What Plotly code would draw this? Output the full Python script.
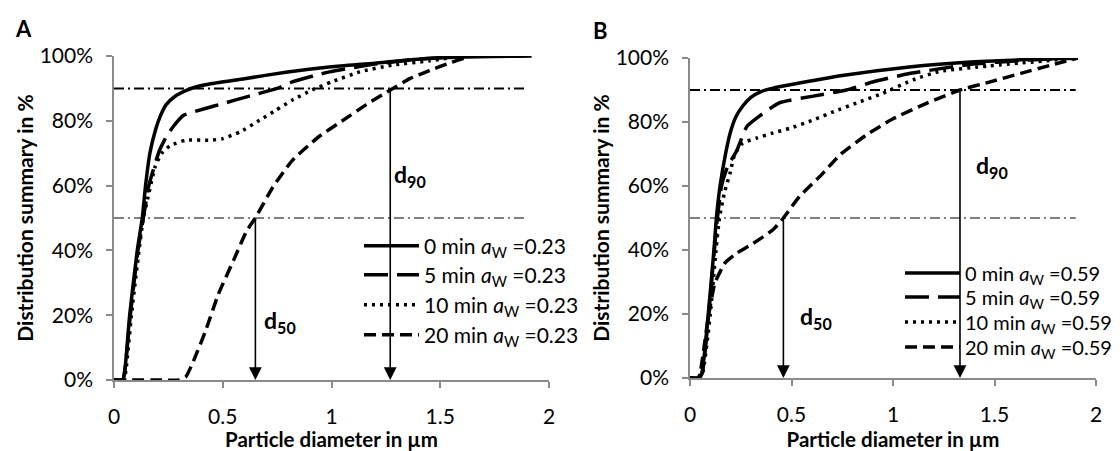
import plotly.graph_objects as go

# ---------------- data ----------------
x_tick_vals = [0, 0.5, 1, 1.5, 2]
y_tick_vals = [0, 0.2, 0.4, 0.6, 0.8, 1.0]
series_names = ["0 min", "5 min", "10 min", "20 min"]
aw_A = "0.23"
aw_B = "0.59"

# Panel A (a_w = 0.23)
xA_0 = [0, 0.04, 0.05, 0.072, 0.107, 0.13, 0.145, 0.165, 0.19, 0.21, 0.24, 0.28, 0.33, 0.38, 0.45, 0.6, 0.79, 1.0, 1.2, 1.35, 1.6, 1.92]
yA_0 = [0, 0, 0.03, 0.2, 0.4, 0.5, 0.6, 0.7, 0.77, 0.81, 0.85, 0.875, 0.893, 0.905, 0.915, 0.93, 0.95, 0.967, 0.978, 0.988, 0.997, 1.0]
xA_5 = [0, 0.04, 0.05, 0.075, 0.11, 0.135, 0.16, 0.19, 0.21, 0.24, 0.27, 0.32, 0.42, 0.5, 0.61, 0.75, 0.82, 0.99, 1.2, 1.4, 1.6]
yA_5 = [0, 0, 0.03, 0.2, 0.4, 0.5, 0.6, 0.67, 0.71, 0.75, 0.78, 0.817, 0.838, 0.853, 0.874, 0.9, 0.92, 0.951, 0.975, 0.99, 1.0]
xA_10 = [0, 0.045, 0.055, 0.08, 0.115, 0.135, 0.155, 0.175, 0.19, 0.22, 0.26, 0.33, 0.44, 0.5, 0.58, 0.67, 0.745, 0.82, 0.91, 1.0, 1.13, 1.28, 1.45, 1.6]
yA_10 = [0, 0, 0.03, 0.2, 0.4, 0.5, 0.56, 0.62, 0.66, 0.7, 0.724, 0.74, 0.74, 0.745, 0.766, 0.802, 0.833, 0.864, 0.895, 0.92, 0.951, 0.972, 0.985, 1.0]
xA_20 = [0, 0.2, 0.3, 0.33, 0.36, 0.42, 0.48, 0.55, 0.61, 0.65, 0.73, 0.82, 0.94, 1.05, 1.16, 1.27, 1.36, 1.45, 1.55, 1.64]
yA_20 = [0, 0, 0, 0.01, 0.05, 0.15, 0.265, 0.37, 0.46, 0.5, 0.595, 0.678, 0.75, 0.80, 0.85, 0.895, 0.93, 0.955, 0.98, 1.0]

# Panel B (a_w = 0.59)
xB_0 = [0, 0.04, 0.058, 0.09, 0.118, 0.13, 0.148, 0.175, 0.2, 0.225, 0.26, 0.3, 0.35, 0.41, 0.5, 0.75, 1.08, 1.4, 1.65, 1.91]
yB_0 = [0, 0, 0.015, 0.2, 0.4, 0.5, 0.6, 0.7, 0.77, 0.815, 0.85, 0.877, 0.895, 0.906, 0.917, 0.945, 0.972, 0.988, 0.995, 1.0]
xB_5 = [0, 0.045, 0.06, 0.092, 0.12, 0.135, 0.155, 0.185, 0.23, 0.28, 0.345, 0.44, 0.6, 0.77, 0.9, 1.07, 1.38, 1.65, 1.91]
yB_5 = [0, 0, 0.015, 0.2, 0.4, 0.5, 0.6, 0.66, 0.71, 0.786, 0.82, 0.86, 0.88, 0.9, 0.925, 0.95, 0.98, 0.993, 1.0]
xB_10 = [0, 0.045, 0.062, 0.1, 0.128, 0.145, 0.17, 0.197, 0.22, 0.26, 0.33, 0.41, 0.49, 0.61, 0.71, 0.82, 0.95, 1.1, 1.23, 1.47, 1.91]
yB_10 = [0, 0, 0.015, 0.2, 0.4, 0.5, 0.58, 0.64, 0.698, 0.734, 0.75, 0.766, 0.78, 0.807, 0.833, 0.859, 0.89, 0.932, 0.958, 0.975, 1.0]
xB_20 = [0, 0.04, 0.05, 0.09, 0.123, 0.173, 0.23, 0.31, 0.41, 0.46, 0.54, 0.64, 0.74, 0.87, 1.0, 1.17, 1.33, 1.47, 1.63, 1.78, 1.91]
yB_20 = [0, 0, 0.015, 0.19, 0.297, 0.36, 0.39, 0.42, 0.464, 0.5, 0.568, 0.63, 0.698, 0.76, 0.81, 0.86, 0.9, 0.924, 0.952, 0.978, 1.0]

# reference levels and characteristic diameters
ref_levels = [0.5, 0.9]
ref_x_end = 1.9
d_A = {"d50": 0.65, "d90": 1.27}
d_B = {"d50": 0.46, "d90": 1.33}

# ---------------- styling / layout helpers ----------------
FONT = "Lato"
dash_styles = ["solid", "24px,9px", "3px,5px", "12px,6px"]
line_width = 3.5

PL, PT, PW, PH = 114, 56, 982, 324          # plot area in px
def px_x(p): return (p - PL) / PW
def px_y(p): return (PT + PH - p) / PH

# legend row centres (px) for each panel, legend left x (px), font size
ITEM_W = 55
legend_rows_A = [246, 275, 305, 335]
legend_rows_B = [273, 297, 322, 347]
legend_left_A = 426 - ITEM_W - 12
legend_left_B = 967 - ITEM_W - 12
legend_font_A = 21
legend_font_B = 20

fig = go.Figure()

panels = [
    ("x", "y", 0, aw_A, [(xA_0, yA_0), (xA_5, yA_5), (xA_10, yA_10), (xA_20, yA_20)], d_A,
     legend_rows_A, legend_left_A, legend_font_A),
    ("x2", "y2", 4, aw_B, [(xB_0, yB_0), (xB_5, yB_5), (xB_10, yB_10), (xB_20, yB_20)], d_B,
     legend_rows_B, legend_left_B, legend_font_B),
]

legend_layouts = {}
for xa, ya, leg_off, aw, series, dvals, rows, left, lfont in panels:
    for lvl in ref_levels:
        fig.add_trace(go.Scatter(
            x=[0, ref_x_end], y=[lvl, lvl], mode="lines", xaxis=xa, yaxis=ya,
            line=dict(color="black", width=2 if lvl == 0.9 else 1, dash="10px,4px,2px,4px"),
            showlegend=False, hoverinfo="skip"))
    for i, (xs, ys) in enumerate(series):
        n = leg_off + i + 1
        leg = "legend" if n == 1 else f"legend{n}"
        fig.add_trace(go.Scatter(
            x=xs, y=ys, mode="lines", xaxis=xa, yaxis=ya,
            name=f"{series_names[i]} <i>a</i><sub>W</sub> ={aw}",
            legend=leg,
            line=dict(color="black", width=line_width, dash=dash_styles[i], shape="spline", smoothing=0.5)))
        legend_layouts[leg] = dict(x=px_x(left), y=px_y(rows[i]), xanchor="left", yanchor="middle",
                                   itemwidth=ITEM_W,
                                   bgcolor="rgba(0,0,0,0)", font=dict(family=FONT, size=lfont, color="black"))
    for key, lvl in (("d50", 0.5), ("d90", 0.9)):
        xv = dvals[key]
        fig.add_annotation(x=xv, y=0, ax=xv, ay=lvl, xref=xa, yref=ya, axref=xa, ayref=ya,
                           showarrow=True, arrowhead=2, arrowsize=1.6, arrowwidth=1.6,
                           arrowcolor="black", text="", standoff=0)

# label texts
label_pos = [
    ("x", "y", d_A["d50"] + 0.03, 0.18, "d<sub>50</sub>"),
    ("x", "y", d_A["d90"] + 0.01, 0.63, "d<sub>90</sub>"),
    ("x2", "y2", d_B["d50"] + 0.07, 0.19, "d<sub>50</sub>"),
    ("x2", "y2", d_B["d90"] + 0.07, 0.66, "d<sub>90</sub>"),
]
for xa, ya, xv, yv, txt in label_pos:
    fig.add_annotation(x=xv, y=yv, xref=xa, yref=ya, text=f"<b>{txt}</b>", showarrow=False,
                       xanchor="left", yanchor="middle", font=dict(family=FONT, size=23, color="black"))

# panel letters
fig.add_annotation(x=px_x(13), y=px_y(28), xref="paper", yref="paper", text="<b>A</b>",
                   showarrow=False, xanchor="left", yanchor="middle", font=dict(family=FONT, size=22, color="black"))
fig.add_annotation(x=px_x(591), y=px_y(30), xref="paper", yref="paper", text="<b>B</b>",
                   showarrow=False, xanchor="left", yanchor="middle", font=dict(family=FONT, size=22, color="black"))

axis_common = dict(showgrid=False, zeroline=False, showline=True, linecolor="#8a8a8a", linewidth=1.5,
                   ticks="outside", ticklen=6, tickcolor="#8a8a8a", tickwidth=1.5,
                   tickfont=dict(family=FONT, size=21, color="black"))

xaxis_common = dict(axis_common, range=[0, 2], tickvals=x_tick_vals, ticktext=[f"{v:g}" for v in x_tick_vals],
                    ticklabelstandoff=11, automargin=False,
                    title=dict(text="<b>Particle diameter in µm</b>", font=dict(family=FONT, size=20.5, color="black"), standoff=10))
yaxis_common = dict(axis_common, range=[0, 1], tickvals=y_tick_vals, tickformat=".0%", ticklabelstandoff=9,
                    automargin=False,
                    title=dict(text="<b>Distribution summary in %</b>", font=dict(family=FONT, size=21, color="black"), standoff=0))

fig.update_layout(
    width=1120, height=451,
    margin=dict(l=PL, r=1120 - PL - PW, t=PT, b=451 - PT - PH, autoexpand=False),
    paper_bgcolor="white", plot_bgcolor="white",
    font=dict(family=FONT, color="black"),
    xaxis=dict(xaxis_common, domain=[px_x(114), px_x(549)], anchor="y"),
    yaxis=dict(yaxis_common, domain=[px_y(380), px_y(56)], anchor="x"),
    xaxis2=dict(xaxis_common, domain=[px_x(690), px_x(1096)], anchor="y2"),
    yaxis2=dict(yaxis_common, domain=[px_y(378), px_y(58)], anchor="x2"),
    showlegend=True,
    **legend_layouts,
)

fig.write_html("out.html", config={"displayModeBar": False},
               post_script="document.body.style.margin='0px';")
